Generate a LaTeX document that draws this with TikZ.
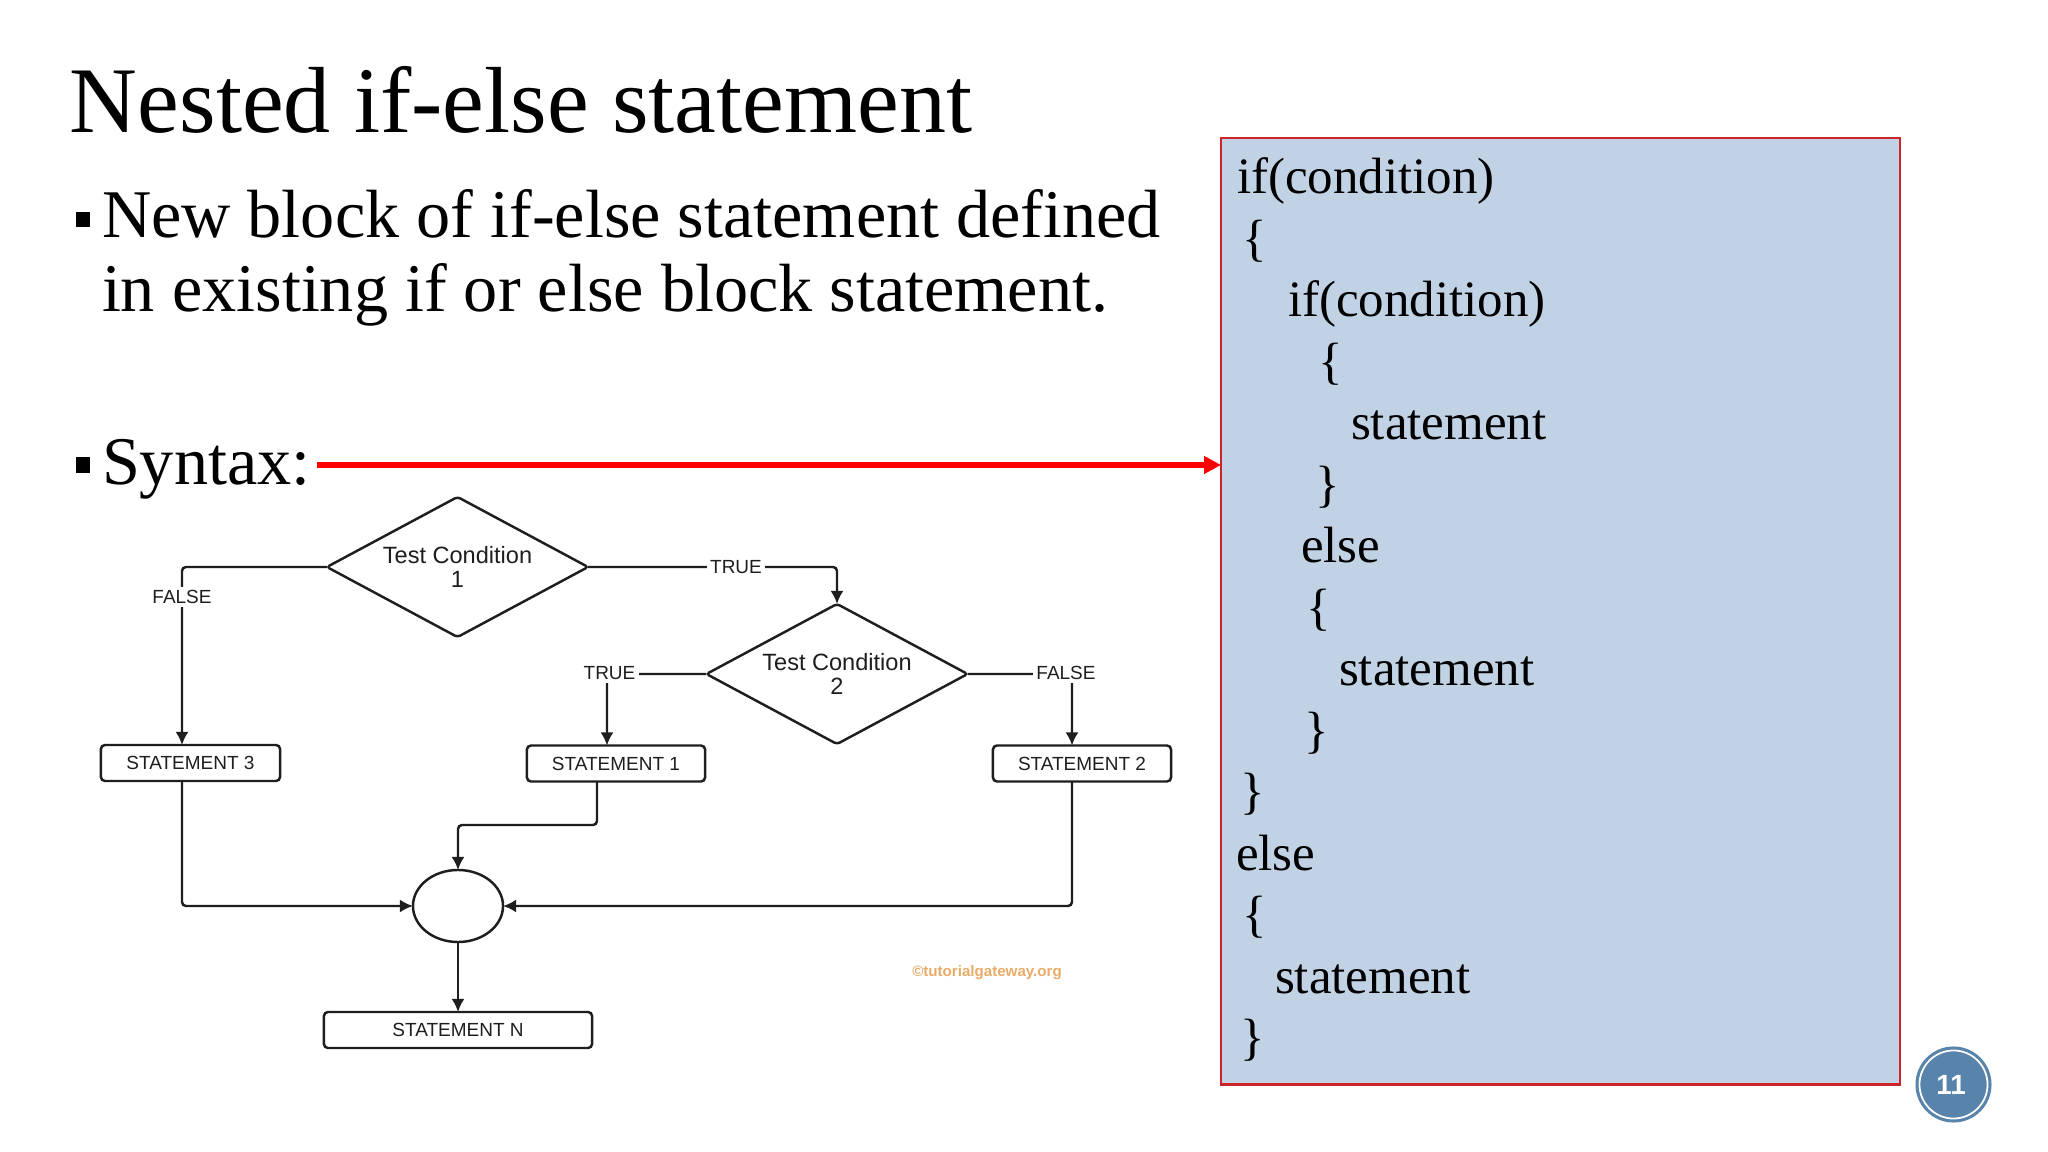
\documentclass[tikz,border=0pt]{standalone}
\usepackage{fontspec}
\setmainfont{Liberation Serif}
\newfontfamily\arialf{Liberation Sans}
\usetikzlibrary{shapes.geometric,arrows.meta}
\definecolor{boxfill}{RGB}{193,210,229}
\definecolor{boxred}{RGB}{205,35,45}
\definecolor{pgblue}{RGB}{88,131,170}
\definecolor{wmark}{RGB}{232,172,105}
\definecolor{fc}{RGB}{30,30,30}
\begin{document}
\begin{tikzpicture}[x=0.01cm,y=-0.01cm,
  every node/.style={inner sep=0pt, outer sep=0pt},
  titlef/.style={font=\fontsize{26.7pt}{32pt}\selectfont, anchor=base west},
  bulf/.style={font=\fontsize{19.4pt}{23pt}\selectfont, anchor=base west},
  codef/.style={font=\fontsize{14.5pt}{17pt}\selectfont, anchor=base west},
  bulletsq/.style={fill=black, minimum width=0.14cm, minimum height=0.15cm},
  decision/.style={diamond, draw=fc, line width=0.7pt, fill=white, aspect=1.86,
    minimum width=2.61cm, minimum height=1.40cm, align=center, rounded corners=0.03cm,
    font=\arialf\fontsize{6.7pt}{6.9pt}\selectfont, text=fc},
  stmt/.style={rectangle, draw=fc, line width=0.7pt, rounded corners=0.04cm,
    minimum height=0.36cm, font=\arialf\fontsize{5.4pt}{6pt}\selectfont, text=fc},
  joinnode/.style={ellipse, draw=fc, line width=0.7pt, minimum width=0.9cm, minimum height=0.72cm},
  flow/.style={draw=fc, line width=0.7pt, rounded corners=0.04cm, -{Latex[length=1.3mm,width=1.3mm]}},
  lbl/.style={fill=white, inner sep=1pt, font=\arialf\fontsize{5.4pt}{6pt}\selectfont, text=fc},
]
\fill[white] (0,0) rectangle (2048,1152);
\useasboundingbox (0,0) rectangle (2048,1152);

% title and bullets
\node[titlef] (title) at (70,133) {Nested if-else statement};
\node[bulletsq] (bul1) at (83,220) {};
\node[bulf] (b1a) at (102,238) {New block of if-else statement defined};
\node[bulf] (b1b) at (102,312) {in existing if or else block statement.};
\node[bulletsq] (bul2) at (83,465) {};
\node[bulf] (syn) at (102,485) {Syntax:};

% code box
\node[draw=boxred, fill=boxfill, line width=0.6pt, minimum width=6.79cm, minimum height=9.46cm, anchor=north west] (codebox) at (1221,138) {};
\node[codef] (c1) at (1237,194) {if(condition)};
\node[codef] (c2) at (1242,255.5) {\{};
\node[codef] (c3) at (1288,316.9) {if(condition)};
\node[codef] (c4) at (1318,378.4) {\{};
\node[codef] (c5) at (1351,439.8) {statement};
\node[codef] (c6) at (1315,501.3) {\}};
\node[codef] (c7) at (1301,562.8) {else};
\node[codef] (c8) at (1306,624.2) {\{};
\node[codef] (c9) at (1339,685.7) {statement};
\node[codef] (c10) at (1304,747.1) {\}};
\node[codef] (c11) at (1240,808.6) {\}};
\node[codef] (c12) at (1236,870.1) {else};
\node[codef] (c13) at (1242,931.5) {\{};
\node[codef] (c14) at (1275,993) {statement};
\node[codef] (c15) at (1240,1054.4) {\}};

% red arrow
\coordinate (arrs) at (317,465);
\draw[red, line width=1.7pt, -{Triangle[length=1.7mm,width=1.7mm]}] (arrs) -- (arrs -| codebox.west);

% flowchart
\node[decision] (d1) at (457.5,567) {Test Condition\\1};
\node[decision] (d2) at (837,674) {Test Condition\\2};
\node[stmt, minimum width=1.79cm] (s3) at (190.5,763) {STATEMENT 3};
\node[stmt, minimum width=1.78cm] (s1) at (616,763.5) {STATEMENT 1};
\node[stmt, minimum width=1.78cm] (s2) at (1082,763.5) {STATEMENT 2};
\node[joinnode] (join) at (458,906) {};
\node[stmt, minimum width=2.68cm] (sn) at (458,1030) {STATEMENT N};

\coordinate (k1) at (182,567);
\coordinate (k3) at (607,674);
\coordinate (k4) at (1072,674);
\coordinate (k5) at (597,825);

\draw[flow] (d1.west) -- (k1) -- (k1 |- s3.north);
\draw[flow] (d1.east) -| (d2.north);
\draw[flow] (d2.west) -- (k3) -- (k3 |- s1.north);
\draw[flow] (d2.east) -- (k4) -- (k4 |- s2.north);
\draw[flow] (k1 |- s3.south) |- (join.west);
\draw[flow] (k5 |- s1.south) -- (k5) -| (join.north);
\draw[flow] (k4 |- s2.south) |- (join.east);
\draw[flow] (join.south) -- (sn.north);

\node[lbl] (lf1) at (182,597) {FALSE};
\node[lbl] (lt1) at (736,567) {TRUE};
\node[lbl] (lt2) at (609.5,673) {TRUE};
\node[lbl] (lf2) at (1066,673) {FALSE};

\node[text=wmark, font=\arialf\bfseries\fontsize{4.3pt}{5pt}\selectfont] (wm) at (987,973) {©tutorialgateway.org};

% page number
\node[circle, fill=pgblue, minimum size=0.76cm] (pg) at (1953.5,1084.5) {};
\draw[white, line width=0.5pt] (pg.center) circle[radius=0.34cm];
\node[text=white, font=\arialf\bfseries\fontsize{7.9pt}{8pt}\selectfont] (pgnum) at (1951,1085) {11};
\end{tikzpicture}
\end{document}
